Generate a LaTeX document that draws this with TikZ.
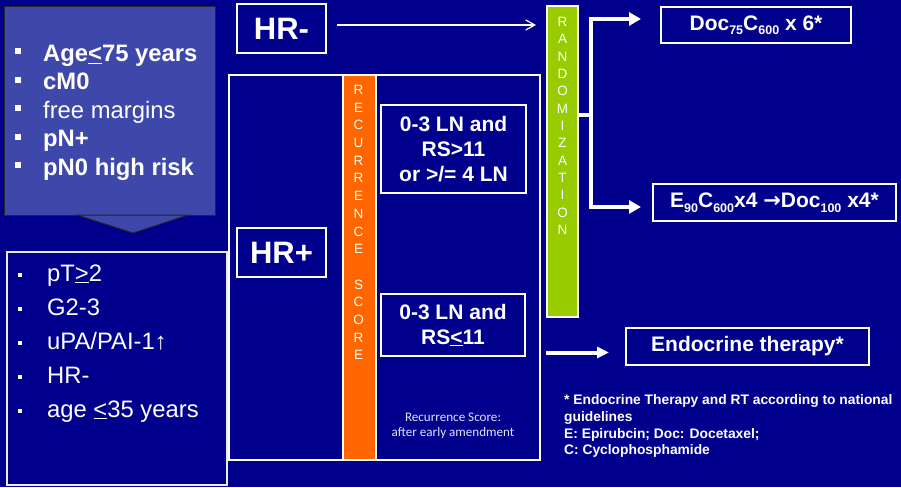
\documentclass[tikz,border=0pt]{standalone}
\usepackage{fontspec}
\setmainfont{Liberation Sans}
\newfontfamily\calib{Carlito}
\newfontfamily\djv{DejaVu Sans}
\usetikzlibrary{arrows.meta}
\definecolor{bgblue}{RGB}{0,0,140}
\definecolor{boxblue}{RGB}{62,72,170}
\definecolor{orng}{RGB}{255,102,0}
\definecolor{grn}{RGB}{153,204,0}
\newcommand{\sbs}[1]{\raisebox{-4.5pt}{\fontsize{12.5}{12.5}\selectfont #1}}
\tikzset{
  wbox/.style={draw=white, line width=2pt, inner sep=0pt},
  bigtxt/.style={font=\fontsize{21}{25}\selectfont\bfseries, text=white, align=center},
  hrtxt/.style={font=\fontsize{31}{31}\selectfont\bfseries, text=white},
  bulA/.style={fill=white, minimum size=6pt, inner sep=0pt},
  bulB/.style={fill=white, minimum size=4pt, inner sep=0pt},
  critB/.style={anchor=base west, text=white, inner sep=0pt, font=\fontsize{23.8}{24}\selectfont\bfseries},
  critR/.style={anchor=base west, text=white, inner sep=0pt, font=\fontsize{23.8}{24}\selectfont},
  vletter/.style={text=white, inner sep=0pt, font=\fontsize{13.5}{13.5}\selectfont},
  note/.style={anchor=base west, text=white, inner sep=0pt, font=\fontsize{13.8}{14}\selectfont\bfseries},
  rsnote/.style={anchor=base, text=white!88!blue, inner sep=0pt, font=\calib\fontsize{13.1}{13.1}\selectfont},
  thinarrow/.style={white, line width=1.2pt, -{Straight Barb[length=9pt,width=10pt]}},
  fatline/.style={white, line width=4.5pt},
  fatarrow/.style={white, line width=4.5pt, line join=miter, -{Triangle[length=12pt,width=13pt]}},
}
\begin{document}
\begin{tikzpicture}[x=1pt,y=-1pt]
\useasboundingbox (0,0) rectangle (901,487);
\fill[bgblue] (0,0) rectangle (901,487);

% inclusion criteria box
\node[draw=black!85, line width=1pt, fill=boxblue, minimum width=211pt, minimum height=208pt, inner sep=0pt] (crit) at (109.5,111) {};
\filldraw[fill=boxblue, draw=black!85, line width=1pt] (77,215) -- (133,233) -- (188,215) -- cycle;
\node[bulA] (ba1) at (18,51.5) {};
\node[critB] (ta1) at (43,61.5) {Age\underline{<}75 years};
\node[bulA] (ba2) at (18,79.5) {};
\node[critB] (ta2) at (43,89.5) {cM0};
\node[bulA] (ba3) at (18,108) {};
\node[critR] (ta3) at (43,118) {free margins};
\node[bulA] (ba4) at (18,136.5) {};
\node[critB] (ta4) at (43,146.5) {pN+};
\node[bulA] (ba5) at (18,165) {};
\node[critB] (ta5) at (43,175) {pN0 high risk};

% high risk box
\node[draw=white!85!gray, line width=1.5pt, minimum width=220pt, minimum height=233pt, inner sep=0pt] (risk) at (117,368.5) {};
\node[bulB] (bb1) at (20,274.5) {};
\node[critR] (tb1) at (47,281) {pT\underline{>}2};
\node[bulB] (bb2) at (20,308.5) {};
\node[critR] (tb2) at (47,315) {G2-3};
\node[bulB] (bb3) at (20,342.5) {};
\node[critR] (tb3) at (47,349) {uPA/PAI-1↑};
\node[bulB] (bb4) at (20,376.5) {};
\node[critR] (tb4) at (47,383) {HR-};
\node[bulB] (bb5) at (20,410.5) {};
\node[critR] (tb5) at (47,417) {age \underline{<}35 years};

% HR- box
\node[wbox, hrtxt, minimum width=89pt, minimum height=49pt] (hrm) at (281.5,28.5) {HR-};

% HR+ frame
\node[wbox, minimum width=311pt, minimum height=385pt] (frame) at (384.5,267.5) {};
\node[wbox, fill=orng, minimum width=33pt, minimum height=385pt] (rs) at (359.75,267.5) {};
\foreach \l [count=\i] in {R,E,C,U,R,R,E,N,C,E,{},S,C,O,R,E}
  \node[vletter] (rsl\i) at (358.5,{90+(\i-1)*17.67}) {\l};
\node[wbox, hrtxt, minimum width=89pt, minimum height=49pt] (hrp) at (281.5,252.5) {HR+};
\node[wbox, bigtxt, minimum width=145pt, minimum height=88pt] (ln1) at (453.5,149) {0-3 LN and\\RS>11\\or >/= 4 LN};
\node[wbox, bigtxt, minimum width=144pt, minimum height=62pt] (ln2) at (453,325) {0-3 LN and\\RS\underline{<}11};
\node[rsnote] (rsn1) at (453,421.7) {Recurrence Score:};
\node[rsnote] (rsn2) at (453,436.7) {after early amendment};

% randomization
\node[wbox, fill=grn, minimum width=31pt, minimum height=311pt] (rand) at (562.5,161.5) {};
\foreach \l [count=\i] in {R,A,N,D,O,M,I,Z,A,T,I,O,N}
  \node[vletter] (rl\i) at (562.5,{22+(\i-1)*17.33}) {\l};

% arms
\node[wbox, bigtxt, minimum width=190pt, minimum height=36pt] (doc) at (756,25) {Doc\sbs{75}C\sbs{600} x 6*};
\node[wbox, bigtxt, minimum width=243pt, minimum height=37pt] (e90) at (774.5,202.5) {E\sbs{90}C\sbs{600}x4 {\djv\bfseries →}Doc\sbs{100} x4*};
\node[wbox, bigtxt, minimum width=243pt, minimum height=37pt] (endo) at (747.5,346.5) {Endocrine therapy*};

% connectors
\path ([xshift=10pt,yshift=3.5pt]hrm.east) coordinate (ha);
\draw[thinarrow] (ha) -- ([xshift=-10pt]ha -| rand.west);
\coordinate (fork) at (591,115);
\draw[fatline] (rand.east |- fork) -- (fork);
\draw[fatarrow] (fork) |- ([xshift=-19pt,yshift=6pt]doc.west);
\draw[fatarrow] (fork) |- ([xshift=-11pt,yshift=-4.5pt]e90.west);
\draw[white, line width=4pt, -{Triangle[length=12pt,width=11pt]}] ([xshift=5pt,yshift=-6pt]frame.east |- endo.west) -- ([xshift=-16pt,yshift=-6pt]endo.west);

% footnote
\node[note] (n1) at (564,404.3) {* Endocrine Therapy and RT according to national};
\node[note] (n2) at (564,421.3) {guidelines};
\node[note] (n3) at (564,438.3) {E: Epirubcin; Doc: Docetaxel;};
\node[note] (n4) at (564,454.5) {C: Cyclophosphamide};
\end{tikzpicture}
\end{document}
